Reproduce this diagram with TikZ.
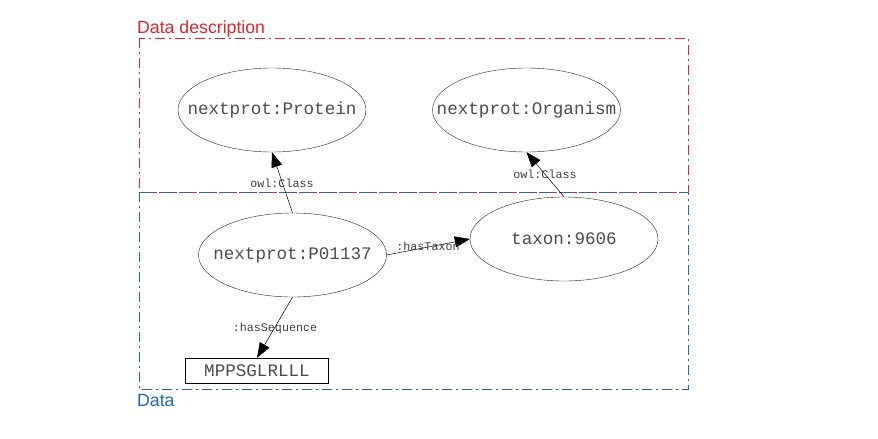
\documentclass[tikz,border=0pt]{standalone}
\usepackage{fontspec}
\setmonofont{Liberation Mono}
\setsansfont{Liberation Sans}
\usetikzlibrary{shapes.geometric,arrows.meta}
\definecolor{datared}{RGB}{218,38,48}
\definecolor{datablue}{RGB}{34,102,174}
\newcommand{\zb}[1]{\makebox[0pt]{#1}}
\tikzset{
  ent/.style={draw=black!85, ellipse, inner sep=0pt, minimum width=188pt, minimum height=84pt,
              font=\fontsize{17.6}{20}\ttfamily, text=black!70},
  lit/.style={draw=black, rectangle, inner sep=0pt, minimum width=143pt, minimum height=25pt,
              font=\fontsize{17.6}{20}\ttfamily, text=black!70},
  rel/.style={draw=black, line width=0.5pt, -{Triangle[length=15pt,width=11pt]}},
  elab/.style={font=\fontsize{11.7}{13}\ttfamily, text=black!75, inner sep=0pt},
  region/.style={line width=0.9pt, dash pattern=on 10pt off 4pt on 2pt off 4pt},
  rlab/.style={font=\fontsize{17.7}{20}\sffamily, inner sep=0pt, anchor=base west}
}
\begin{document}
\begin{tikzpicture}[x=1pt,y=-1pt]
\useasboundingbox (0,0) rectangle (878,439);
\draw[region, datared] (139,38) rectangle (688,192);
\draw[region, datablue] (139,192) rectangle (688,389);
\node[rlab, text=datared] (tdesc) at (137,33) {Data description};
\node[rlab, text=datablue] (tdata) at (137,406) {Data};

\node[ent] (protein) at (272,110) {\zb{nextprot:Protein}};
\node[ent] (organism) at (526.5,110) {\zb{nextprot:Organism}};
\node[ent] (p) at (292.5,255) {\zb{nextprot:P01137}};
\node[ent] (taxon) at (564,239) {\zb{taxon:9606}};
\node[lit] (seq) at (257,370.5) {MPPSGLRLLL};

\draw[rel] (p.north) -- (protein.south);
\draw[rel] (taxon.north) -- (organism.south);
\draw[rel] (p.east) -- (taxon.west);
\draw[rel] (p.south) -- (seq.north);

\node[elab] (l1) at (282,183) {owl:Class};
\node[elab] (l2) at (545,174) {owl:Class};
\node[elab] (l3) at (428,246) {:hasTaxon};
\node[elab] (l4) at (275,328) {:hasSequence};
\end{tikzpicture}
\end{document}
